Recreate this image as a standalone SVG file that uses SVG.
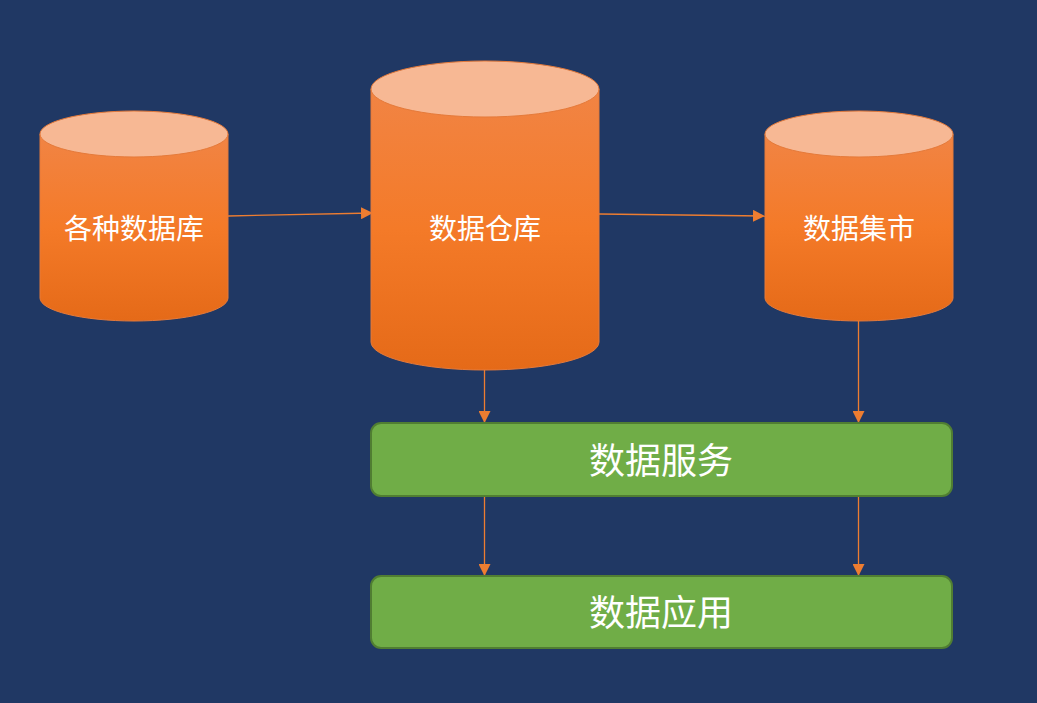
<svg xmlns="http://www.w3.org/2000/svg" width="1037" height="703" viewBox="0 0 1037 703">
<defs>
<linearGradient id="cyl" x1="0" y1="0" x2="0" y2="1">
<stop offset="0" stop-color="#f18444"/>
<stop offset="0.5" stop-color="#f47a28"/>
<stop offset="1" stop-color="#e56a18"/>
</linearGradient>
<marker id="arr" viewBox="0 0 10 10" refX="10" refY="5" markerWidth="12" markerHeight="12" markerUnits="userSpaceOnUse" orient="auto">
<path d="M0,0 L10,5 L0,10 z" fill="#ed7d31"/>
</marker>
<style>
.body{fill:url(#cyl);stroke:#e57a3a;stroke-width:1}
.top{fill:#f7b894;stroke:#e57a3a;stroke-width:1}
.box{fill:#70ad47;stroke:#507e32;stroke-width:2}
.lbl{fill:#ffffff;font-family:"Noto Sans CJK SC","Noto Sans",sans-serif;text-anchor:middle;dominant-baseline:central}
.conn{stroke:#ed7d31;stroke-width:1.3;fill:none;marker-end:url(#arr)}
</style>
</defs>
<rect width="1037" height="703" fill="#203864"/>
<g id="connectors">
<line class="conn" x1="228" y1="216" x2="373" y2="213"/>
<line class="conn" x1="599" y1="214" x2="765" y2="216"/>
<line class="conn" x1="484.5" y1="370" x2="484.5" y2="423"/>
<line class="conn" x1="858.5" y1="321" x2="858.5" y2="423"/>
<line class="conn" x1="484.5" y1="496" x2="484.5" y2="576"/>
<line class="conn" x1="858.5" y1="496" x2="858.5" y2="576"/>
</g>
<g id="db-sources">
<path class="body" d="M40,134 L40,298 A94,23 0 0 0 228,298 L228,134 Z"/>
<ellipse class="top" cx="134" cy="134" rx="94" ry="23"/>
<text class="lbl" x="134" y="227" font-size="28">各种数据库</text>
</g>
<g id="warehouse">
<path class="body" d="M371,89 L371,342 A114,28 0 0 0 599,342 L599,89 Z"/>
<ellipse class="top" cx="485" cy="89" rx="114" ry="28"/>
<text class="lbl" x="485" y="227" font-size="28">数据仓库</text>
</g>
<g id="datamart">
<path class="body" d="M765,134 L765,298 A94,23 0 0 0 953,298 L953,134 Z"/>
<ellipse class="top" cx="859" cy="134" rx="94" ry="23"/>
<text class="lbl" x="859" y="227" font-size="28">数据集市</text>
</g>
<g id="data-service">
<rect class="box" x="371" y="423" width="581" height="73" rx="10"/>
<text class="lbl" x="661" y="458" font-size="36">数据服务</text>
</g>
<g id="data-app">
<rect class="box" x="371" y="576" width="581" height="72" rx="10"/>
<text class="lbl" x="661" y="610" font-size="36">数据应用</text>
</g>
</svg>
